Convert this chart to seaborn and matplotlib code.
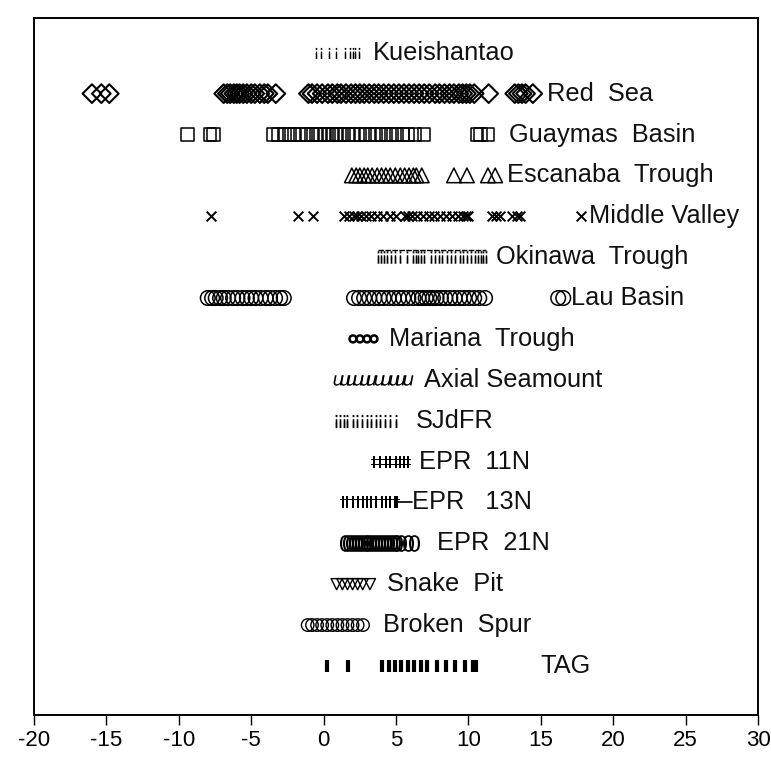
import matplotlib
matplotlib.use("Agg")
import matplotlib.pyplot as plt
import seaborn as sns
import pandas as pd

# --- data: values per site ---------------------------------------------------
sites = ["Kueishantao", "Red  Sea", "Guaymas  Basin", "Escanaba  Trough",
         "Middle Valley", "Okinawa  Trough", "Lau Basin", "Mariana  Trough",
         "Axial Seamount", "SJdFR", "EPR  11N", "EPR   13N", "EPR  21N",
         "Snake  Pit", "Broken  Spur", "TAG"]

kueishantao = [-0.55, -0.15, 0.4, 0.85, 1.45, 1.8, 2.0, 2.2, 2.45]
red_sea = [-16.0, -15.35, -14.8,
           -6.9, -6.65, -6.45, -6.2, -6.0, -5.8, -5.55, -5.3, -5.0, -4.75,
           -4.4, -4.1, -3.85, -3.3,
           -1.05, -0.8, -0.45, -0.1, 0.3, 0.6, 0.95, 1.2, 1.55, 1.9, 2.2, 2.5,
           2.8, 3.15, 3.5, 3.8, 4.15, 4.5, 4.85, 5.2, 5.55, 5.9, 6.25, 6.6,
           6.95, 7.3, 7.7, 8.0, 8.35, 8.7, 9.0, 9.35, 9.6, 9.85, 10.1, 10.4,
           11.4,
           13.2, 13.45, 13.7, 13.95, 14.45]
guaymas = [-9.4, -7.85, -7.6,
           -3.5, -3.1, -2.7, -2.35, -2.0, -1.6, -1.2, -0.85, -0.5, -0.2, 0.1,
           0.35, 0.6, 0.85, 1.1, 1.4, 1.75, 2.1, 2.5, 2.85, 3.2, 3.6, 3.95,
           4.3, 4.7, 5.05, 5.45, 5.8, 6.3, 6.95,
           10.6, 10.85, 11.35]
escanaba = [1.95, 2.25, 2.5, 2.8, 3.05, 3.35, 3.7, 4.0, 4.3, 4.6, 4.95, 5.3,
            5.6, 5.9, 6.2, 6.4, 6.78, 9.0, 9.9, 11.35, 11.85]
middle_valley = [-7.8, -1.8, -0.75,
                 1.4, 1.75, 2.1, 2.3, 2.6, 2.95, 3.3, 3.7, 4.1, 4.6, 5.0, 5.6,
                 5.85, 6.1, 6.45, 6.85, 7.25, 7.65, 8.05, 8.45, 8.85, 9.25,
                 9.6, 9.85, 10.0,
                 11.6, 11.9, 12.2, 13.0, 13.35, 13.55, 17.8]
okinawa = [3.75, 3.95, 4.2, 4.4, 4.65, 4.9, 5.3, 5.75, 6.15, 6.35, 6.55,
           6.75, 6.95, 7.45, 7.7, 7.95, 8.2, 8.55, 8.8, 9.05, 9.4, 9.65, 9.9,
           10.15, 10.45, 10.65, 10.85, 11.0, 11.2]
lau = [-8.0, -7.7, -7.45, -7.15, -6.9, -6.6, -6.25, -5.95, -5.6, -5.3, -5.0,
       -4.7, -4.35, -4.0, -3.7, -3.35, -3.0, -2.75,
       2.1, 2.45, 2.8, 3.15, 3.5, 3.85, 4.15, 4.5, 4.85, 5.2, 5.5, 5.85, 6.2,
       6.55, 6.8, 7.05, 7.3, 7.55, 7.8, 8.1, 8.4, 8.75, 9.05, 9.4, 9.7, 10.05,
       10.4, 10.75, 11.15,
       16.2, 16.55]
mariana = [2.03, 2.51, 3.0, 3.48]
axial = [1.0, 1.45, 1.9, 2.4, 2.85, 3.3, 3.8, 4.3, 4.85, 5.3, 5.8]
sjdfr = [0.85, 1.1, 1.4, 1.65, 2.0, 2.3, 2.65, 3.0, 3.3, 3.6, 3.9, 4.25,
         4.6, 5.0]
epr11n = [3.45, 3.9, 4.3, 4.6, 5.0, 5.3, 5.55, 5.85]
epr13n = [1.35, 1.65, 2.0, 2.35, 2.75, 3.0, 3.25, 3.6, 4.0, 4.3, 4.6, 4.9,
          5.1]
epr21n = [1.45, 1.7, 1.9, 2.1, 2.3, 2.5, 2.7, 2.9, 3.1, 3.3, 3.5, 3.7, 3.9,
          4.1, 4.3, 4.5, 4.7, 4.9, 5.1, 5.35, 5.8, 6.25]
snake_pit = [0.9, 1.3, 1.65, 2.0, 2.35, 2.7, 3.2]
broken_spur = [-1.1, -0.8, -0.45, -0.1, 0.25, 0.6, 0.95, 1.3, 1.65, 2.0,
               2.35, 2.72]
tag = [0.25, 1.7, 4.0, 4.5, 4.95, 5.35, 5.8, 6.25, 6.7, 7.15, 7.8, 8.45,
       9.1, 9.75, 10.3, 10.5]

series = [kueishantao, red_sea, guaymas, escanaba, middle_valley, okinawa,
          lau, mariana, axial, sjdfr, epr11n, epr13n, epr21n, snake_pit,
          broken_spur, tag]

xticks = [-20, -15, -10, -5, 0, 5, 10, 15, 20, 25, 30]

# --- styling: marker, size (points), fill, edge width, label x -------------
styles = [
    dict(marker="$\u00a1$", ms=8.0, fill=True, lw=0.0, lx=3.4),
    dict(marker="D", ms=9.5, fill=False, lw=1.5, lx=15.4),
    dict(marker="s", ms=9.0, fill=False, lw=1.1, lx=12.8),
    dict(marker="^", ms=10.5, fill=False, lw=1.1, lx=12.7),
    dict(marker="x", ms=7.0, fill=False, lw=1.4, lx=18.3),
    dict(marker="$\u00a1$", ms=9.0, fill=True, lw=0.0, lx=11.9),
    dict(marker="o", ms=10.5, fill=False, lw=1.1, lx=17.1),
    dict(marker="o", ms=5.0, fill=False, lw=1.8, lx=4.5),
    dict(marker="$u$", ms=7.5, fill=True, lw=0.0, lx=6.9),
    dict(marker="$\u00a1$", ms=9.5, fill=True, lw=0.0, lx=6.4),
    dict(marker="$\u2021$", ms=9.0, fill=True, lw=0.0, lx=6.6),
    dict(marker="$\u2020$", ms=8.5, fill=True, lw=0.0, lx=6.1),
    dict(marker="$0$", ms=12.0, fill=True, lw=0.0, lx=7.85),
    dict(marker="v", ms=8.0, fill=False, lw=1.0, lx=4.4),
    dict(marker="o", ms=9.0, fill=False, lw=1.0, lx=4.1),
    dict(marker="|", ms=8.5, fill=False, lw=3.0, lx=15.0),
]

sns.set_theme(style="white")
plt.rcParams["font.family"] = ["Liberation Sans", "DejaVu Sans"]
plt.rcParams["mathtext.fontset"] = "dejavusans"

fig = plt.figure(figsize=(7.71, 7.57), dpi=100)
ax = fig.add_axes([34 / 771, 42 / 757, 724 / 771, 697 / 757])

for row, (name, vals, st) in enumerate(zip(sites, series, styles)):
    df = pd.DataFrame({"value": vals, "row": [row] * len(vals)})
    kw = dict(marker=st["marker"], s=st["ms"] ** 2, linewidth=st["lw"],
              legend=False, zorder=3)
    if st["fill"] or st["marker"] in ("x", "|"):
        kw.update(color="black", edgecolor="black")
    else:
        kw.update(facecolor="none", edgecolor="black")
    sns.scatterplot(data=df, x="value", y="row", ax=ax, **kw)
    ax.text(st["lx"], row, name, fontsize=18.3, va="center", ha="left",
            color="#111111")

# thin rule capping the Okinawa Trough marks
ax.plot([min(okinawa), max(okinawa)], [4.82, 4.82], color="black", lw=1.0,
        ls=(0, (4, 1)))
# short rule trailing the EPR 13N markers
ax.plot([max(epr13n), 6.1], [11, 11], color="black", lw=1.2)

ax.set_xlim(-20, 30)
ax.set_ylim(16.2, -0.85)
ax.set_xticks(xticks)
ax.set_xticklabels([str(t) for t in xticks], fontsize=16)
ax.set_yticks([])
ax.set_xlabel("")
ax.set_ylabel("")
ax.tick_params(axis="x", direction="out", length=7, width=1.0,
               pad=4, colors="black", bottom=True)
for sp in ax.spines.values():
    sp.set_visible(True)
    sp.set_color("black")
    sp.set_linewidth(1.4)

fig.savefig("out.png", dpi=100)
